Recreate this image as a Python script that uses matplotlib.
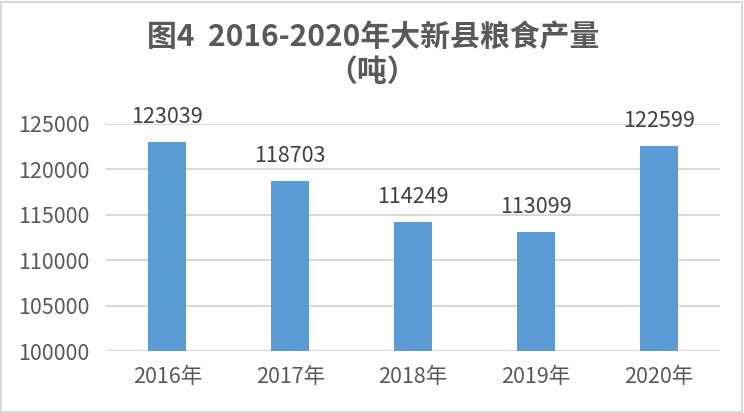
import matplotlib.pyplot as plt
from matplotlib.patches import Rectangle

plt.rcParams['font.family'] = ['Noto Sans CJK SC', 'DejaVu Sans']

# 粮食产量 (吨)
years = ['2016年', '2017年', '2018年', '2019年', '2020年']
output = [123039, 118703, 114249, 113099, 122599]
yticks = [100000, 105000, 110000, 115000, 120000, 125000]

fig = plt.figure(figsize=(7.44, 4.13), dpi=100)
ax = fig.add_axes([0.1425, 0.150, 0.8252, 0.550])

x = range(len(years))
ax.bar(x, output, width=0.31, color='#5B9BD5', zorder=3)
for xi, v in zip(x, output):
    ax.annotate(str(v), (xi, v), xytext=(0, 18), textcoords='offset points',
                ha='center', va='center', fontsize=15.5, color='#404040',
                annotation_clip=False)

ax.set_xlim(-0.5, len(years) - 0.5)
ax.set_ylim(100000, 125000)
ax.set_yticks(yticks)
ax.set_yticklabels([str(t) for t in yticks])
ax.set_xticks(list(x))
ax.set_xticklabels(years)
ax.tick_params(axis='both', length=0, labelsize=15.5, colors='#595959')
ax.tick_params(axis='y', pad=12)
ax.tick_params(axis='x', pad=11)
ax.grid(axis='y', color='#D9D9D9', linewidth=1.5, zorder=0)
for s in ax.spines.values():
    s.set_visible(False)

fig.text(0.502, 0.910, '图4  2016-2020年大新县粮食产量', ha='center', va='center',
         fontsize=21.5, fontweight='bold', color='#595959')
fig.text(0.500, 0.825, '（吨）', ha='center', va='center',
         fontsize=21.5, fontweight='bold', color='#595959')

fig.patches.append(Rectangle((0.002, 0.003), 0.995, 0.993, transform=fig.transFigure,
                             fill=False, edgecolor='#D9D9D9', linewidth=1.5))

fig.savefig('out.png', dpi=100)
